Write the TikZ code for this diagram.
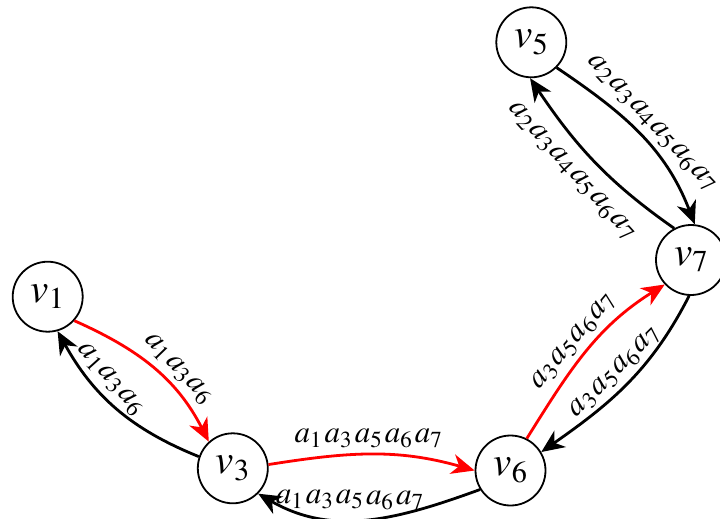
\documentclass[tikz,border=0pt]{standalone}
\usepackage{mathptmx}
\usetikzlibrary{arrows.meta}
% spaced product of generators
\newcommand{\gk}{\mkern1.5mu}
\begin{document}
\begin{tikzpicture}[x=1pt,y=1pt,
  vert/.style={draw, circle, line width=1.8pt, minimum size=70pt, inner sep=0pt,
    font=\fontsize{41}{47}\selectfont},
  arc/.style={line width=2.8pt, -{Stealth[length=23pt,width=20pt,inset=7pt]}},
  redarc/.style={arc, red},
  lbl/.style={sloped, inner sep=5pt, text=black, font=\fontsize{31}{35}\selectfont}]
  \useasboundingbox (0,0) rectangle (720,-519);
  % vertices
  \node[vert] (v1) at (47.7,-296.7) {$v_1$};
  \node[vert] (v3) at (232.8,-468.3) {$v_3$};
  \node[vert] (v6) at (510.5,-470.5) {$v_6$};
  \node[vert] (v7) at (691,-260) {$v_7$};
  \node[vert] (v5) at (531.3,-42.3) {$v_5$};
  % v1 -- v3
  \draw[redarc] (v1.-42) to[out=-24,in=117]
    node[lbl, above, pos=0.6] {$a_1\gk a_3\gk a_6$} (v3.132);
  \draw[arc] (v3.161) to[out=158,in=-61]
    node[lbl, above, pos=0.64] {$a_1\gk a_3\gk a_6$} (v1.-74);
  % v3 -- v6
  \draw[redarc] (v3.6) to[out=9,in=164]
    node[lbl, above, pos=0.48] {$a_1\gk a_3\gk a_5\gk a_6\gk a_7$} (v6.180);
  \draw[arc] (v6.212) to[out=200,in=-30]
    node[lbl, above, pos=0.58, inner sep=9pt] {$a_1\gk a_3\gk a_5\gk a_6\gk a_7$} (v3.-45);
  % v6 -- v7
  \draw[redarc] (v6.63) to[out=58,in=212]
    node[lbl, above, pos=0.5] {$a_3\gk a_5\gk a_6\gk a_7$} (v7.223);
  \draw[arc] (v7.267) to[out=243,in=35]
    node[lbl, above, pos=0.5] {$a_3\gk a_5\gk a_6\gk a_7$} (v6.31);
  % v5 -- v7
  \draw[arc] (v5.-45) to[out=-34,in=111]
    node[lbl, above, pos=0.5] {$a_2\gk a_3\gk a_4\gk a_5\gk a_6\gk a_7$} (v7.84);
  \draw[arc] (v7.118) to[out=145,in=-56]
    node[lbl, below, pos=0.54, inner sep=13pt] {$a_2\gk a_3\gk a_4\gk a_5\gk a_6\gk a_7$} (v5.-92);
\end{tikzpicture}
\end{document}
